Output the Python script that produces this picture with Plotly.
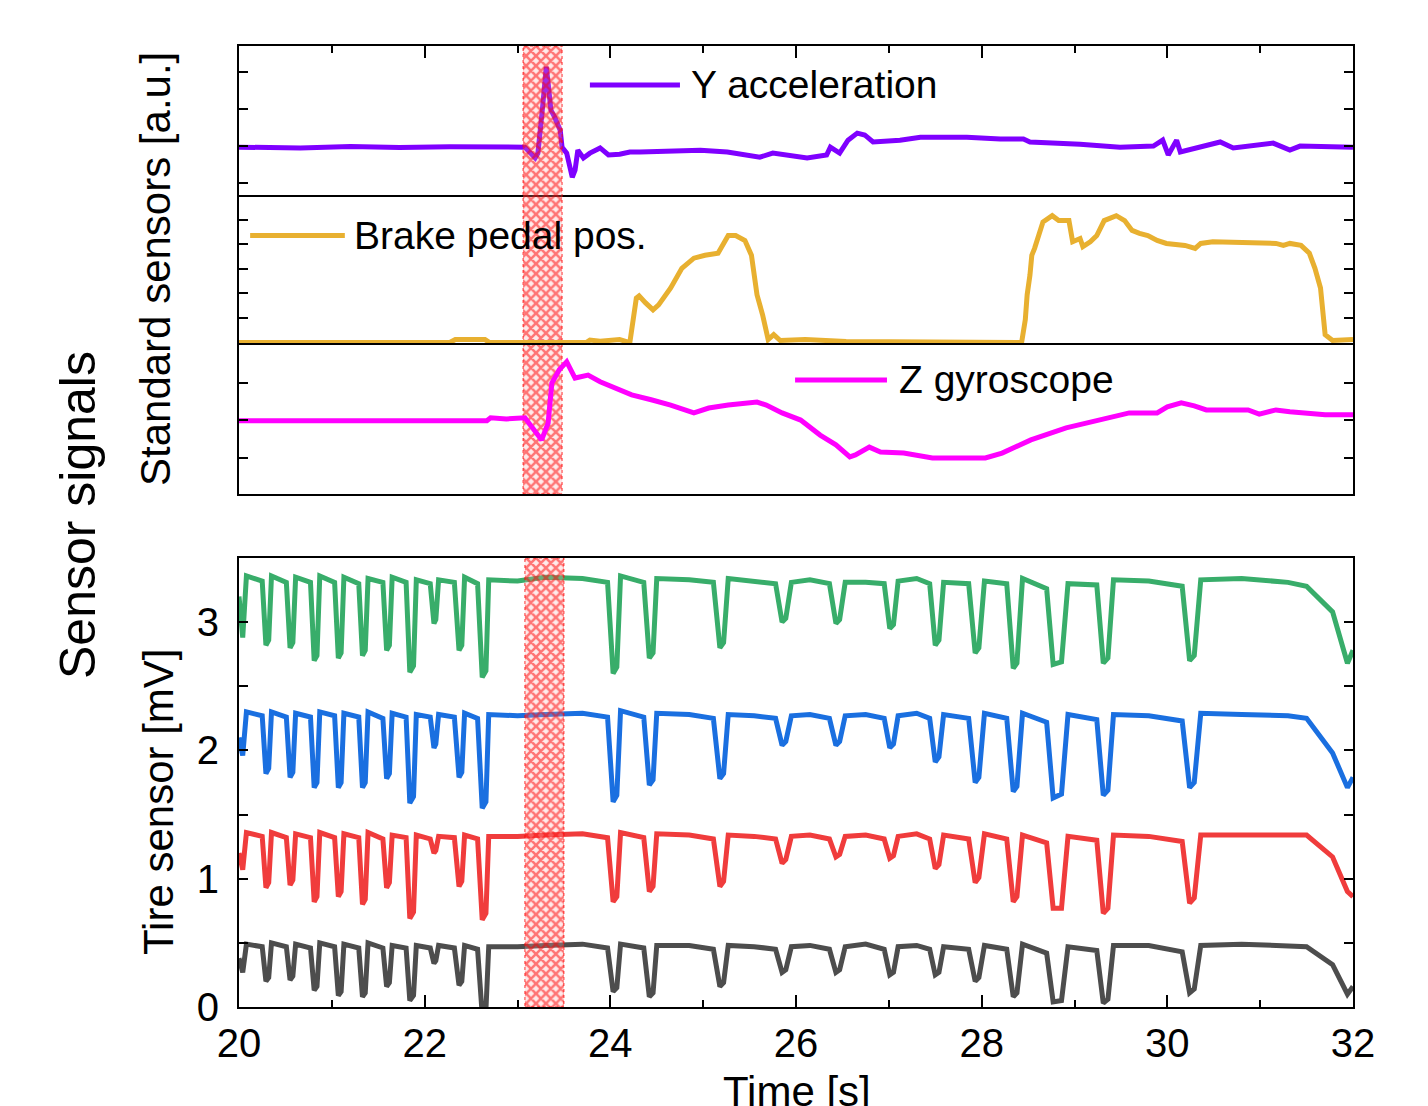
import plotly.graph_objects as go

# ---------------- data ----------------
# Y acceleration (a.u.)
yacc_t = [20.00, 20.66, 21.20, 21.73, 22.27, 22.81, 23.03, 23.08, 23.19, 23.22, 23.27, 23.31, 23.33,
          23.36, 23.40, 23.46, 23.48, 23.53, 23.59, 23.62, 23.65, 23.71, 23.78, 23.89, 23.98, 24.10,
          24.21, 24.32, 24.97, 25.26, 25.61, 25.75, 26.12, 26.33, 26.37, 26.47, 26.56, 26.66, 26.74,
          26.83, 27.12, 27.34, 27.84, 28.20, 28.45, 28.52, 29.06, 29.49, 29.85, 29.95, 30.01, 30.10,
          30.14, 30.32, 30.57, 30.71, 31.14, 31.32, 31.43, 32.00]
yacc_v = [0.97, 0.95, 0.99, 0.96, 0.98, 0.96, 0.97, 0.97, 0.68, 0.81, 2.05, 3.14, 2.70,
          1.97, 1.78, 1.43, 0.97, 0.81, 0.16, 0.35, 0.89, 0.68, 0.81, 0.95, 0.76, 0.78,
          0.84, 0.84, 0.89, 0.84, 0.70, 0.81, 0.68, 0.76, 0.97, 0.81, 1.16, 1.35, 1.30,
          1.11, 1.16, 1.24, 1.24, 1.19, 1.19, 1.11, 1.05, 0.97, 1.00, 1.16, 0.76, 1.16,
          0.84, 0.95, 1.11, 0.95, 1.08, 0.89, 1.00, 0.97]

# Brake pedal position (a.u.)
brake_t = [20.00, 22.27, 22.33, 22.65, 22.70, 23.74, 23.78, 23.89, 24.10, 24.17, 24.21, 24.28, 24.31,
           24.38, 24.46, 24.52, 24.65, 24.77, 24.90, 25.02, 25.16, 25.27, 25.35, 25.45, 25.52, 25.58,
           25.64, 25.70, 25.76, 25.83, 26.10, 26.54, 28.43, 28.47, 28.49, 28.52, 28.54, 28.57, 28.62,
           28.66, 28.76, 28.83, 28.94, 28.98, 29.06, 29.09, 29.17, 29.24, 29.32, 29.45, 29.54, 29.62,
           29.70, 29.79, 29.89, 29.99, 30.19, 30.30, 30.36, 30.49, 31.17, 31.25, 31.32, 31.44, 31.53,
           31.59, 31.65, 31.68, 31.70, 31.78, 31.97, 32.00]
brake_v = [0.00, 0.00, 0.12, 0.12, 0.00, 0.00, 0.10, 0.05, 0.12, 0.05, 0.00, 1.81, 1.90,
           1.61, 1.33, 1.53, 2.22, 3.02, 3.43, 3.55, 3.63, 4.35, 4.35, 4.15, 3.55, 1.94,
           1.13, 0.12, 0.32, 0.08, 0.12, 0.04, 0.00, 0.93, 1.94, 2.74, 3.55, 3.83, 4.35,
           4.90, 5.16, 4.96, 4.96, 4.10, 4.23, 3.90, 4.10, 4.35, 4.96, 5.16, 4.96, 4.56,
           4.44, 4.35, 4.15, 4.03, 3.95, 3.83, 4.03, 4.10, 4.03, 3.95, 4.03, 3.95, 3.63,
           3.02, 2.22, 1.13, 0.32, 0.08, 0.08, 0.12]

# Z gyroscope (a.u.)
gyro_t = [20.00, 22.67, 22.71, 22.88, 23.08, 23.17, 23.26, 23.33, 23.37, 23.45, 23.53, 23.62, 23.76,
          23.89, 24.03, 24.23, 24.44, 24.65, 24.90, 25.06, 25.27, 25.58, 25.68, 25.85, 26.05, 26.26,
          26.43, 26.58, 26.64, 26.79, 26.91, 27.16, 27.47, 28.04, 28.22, 28.53, 28.91, 29.29, 29.59,
          29.89, 30.00, 30.15, 30.29, 30.42, 30.87, 30.99, 31.17, 31.32, 31.70, 32.00]
gyro_v = [0.99, 0.99, 1.07, 1.04, 1.07, 0.80, 0.48, 0.93, 2.00, 2.35, 2.56, 2.13, 2.21,
          2.03, 1.89, 1.68, 1.55, 1.41, 1.20, 1.33, 1.41, 1.49, 1.41, 1.20, 1.01, 0.61,
          0.35, 0.03, 0.08, 0.29, 0.16, 0.13, 0.00, 0.00, 0.13, 0.48, 0.80, 1.01, 1.20,
          1.20, 1.36, 1.47, 1.39, 1.28, 1.28, 1.17, 1.28, 1.23, 1.15, 1.15]

# Tire sensor (mV), shared time base for the four channels
tire_t = [20.00, 20.04, 20.08,
          20.25, 20.29, 20.32, 20.35,
          20.51, 20.55, 20.58, 20.61,
          20.77, 20.81, 20.84, 20.87,
          21.03, 21.07, 21.10, 21.13,
          21.29, 21.33, 21.36, 21.39,
          21.55, 21.59, 21.62, 21.65,
          21.80, 21.84, 21.88, 21.91,
          22.06, 22.10, 22.12, 22.15,
          22.32, 22.37, 22.40, 22.43,
          22.57, 22.62, 22.66, 22.69,
          23.00, 23.30, 23.70,
          23.97, 24.03, 24.07, 24.11,
          24.36, 24.42, 24.46, 24.50,
          24.85,
          25.11, 25.18, 25.22, 25.27,
          25.55,
          25.78, 25.85, 25.89, 25.95,
          26.15,
          26.36, 26.43, 26.47, 26.53,
          26.75,
          26.95, 27.01, 27.05, 27.10,
          27.30,
          27.44, 27.50, 27.54, 27.59,
          27.86, 27.93, 27.97, 28.03,
          28.27, 28.34, 28.38, 28.44,
          28.70, 28.77, 28.86, 28.93,
          29.24, 29.31, 29.36, 29.42,
          29.80,
          30.16, 30.24, 30.29, 30.36,
          30.80, 31.30,
          31.50, 31.78, 31.94, 32.00]

tire_green = [3.20, 2.88, 3.36,
              3.32, 2.82, 2.86, 3.36,
              3.31, 2.80, 2.84, 3.35,
              3.31, 2.70, 2.74, 3.36,
              3.31, 2.72, 2.76, 3.35,
              3.30, 2.74, 2.78, 3.34,
              3.31, 2.78, 2.82, 3.35,
              3.31, 2.61, 2.66, 3.33,
              3.30, 2.99, 3.02, 3.33,
              3.31, 2.78, 2.82, 3.35,
              3.30, 2.57, 2.62, 3.33,
              3.32, 3.35, 3.34,
              3.31, 2.60, 2.65, 3.36,
              3.31, 2.72, 2.76, 3.34,
              3.33,
              3.31, 2.80, 2.84, 3.34,
              3.32,
              3.30, 3.00, 3.03, 3.31,
              3.33,
              3.30, 2.99, 3.02, 3.31,
              3.31,
              3.30, 2.95, 2.98, 3.32,
              3.34,
              3.30, 2.82, 2.86, 3.31,
              3.30, 2.76, 2.80, 3.32,
              3.30, 2.64, 2.68, 3.34,
              3.26, 2.67, 2.69, 3.30,
              3.29, 2.68, 2.72, 3.33,
              3.32,
              3.28, 2.70, 2.74, 3.33,
              3.34, 3.31,
              3.28, 3.08, 2.68, 2.78]

tire_blue = [2.10, 1.96, 2.30,
             2.27, 1.82, 1.86, 2.30,
             2.26, 1.79, 1.83, 2.29,
             2.26, 1.71, 1.75, 2.30,
             2.27, 1.71, 1.75, 2.29,
             2.26, 1.71, 1.75, 2.30,
             2.25, 1.78, 1.82, 2.29,
             2.26, 1.59, 1.64, 2.28,
             2.26, 2.02, 2.05, 2.28,
             2.26, 1.79, 1.83, 2.29,
             2.25, 1.55, 1.60, 2.28,
             2.27, 2.28, 2.29,
             2.26, 1.60, 1.65, 2.31,
             2.26, 1.73, 1.77, 2.29,
             2.28,
             2.25, 1.78, 1.82, 2.28,
             2.27,
             2.25, 2.04, 2.07, 2.27,
             2.28,
             2.25, 2.04, 2.07, 2.27,
             2.28,
             2.25, 2.02, 2.05, 2.27,
             2.29,
             2.25, 1.91, 1.95, 2.28,
             2.25, 1.75, 1.79, 2.29,
             2.25, 1.68, 1.72, 2.29,
             2.22, 1.63, 1.66, 2.28,
             2.24, 1.65, 1.69, 2.28,
             2.27,
             2.23, 1.71, 1.75, 2.29,
             2.28, 2.27,
             2.25, 1.98, 1.71, 1.79]

tire_red = [1.20, 1.07, 1.36,
            1.33, 0.93, 0.97, 1.36,
            1.32, 0.95, 0.99, 1.35,
            1.32, 0.82, 0.86, 1.36,
            1.32, 0.86, 0.90, 1.35,
            1.32, 0.80, 0.84, 1.36,
            1.31, 0.93, 0.97, 1.34,
            1.32, 0.69, 0.74, 1.34,
            1.31, 1.20, 1.22, 1.33,
            1.32, 0.94, 0.98, 1.34,
            1.31, 0.68, 0.73, 1.33,
            1.33, 1.34, 1.35,
            1.32, 0.82, 0.86, 1.36,
            1.32, 0.90, 0.94, 1.35,
            1.34,
            1.31, 0.94, 0.98, 1.34,
            1.33,
            1.31, 1.12, 1.15, 1.33,
            1.34,
            1.31, 1.17, 1.19, 1.33,
            1.34,
            1.31, 1.16, 1.18, 1.33,
            1.35,
            1.31, 1.08, 1.11, 1.34,
            1.31, 0.97, 1.01, 1.35,
            1.31, 0.82, 0.86, 1.34,
            1.28, 0.77, 0.77, 1.33,
            1.30, 0.73, 0.77, 1.34,
            1.33,
            1.29, 0.81, 0.85, 1.34,
            1.34, 1.34,
            1.34, 1.17, 0.90, 0.86]

tire_grey = [0.38, 0.27, 0.49,
             0.47, 0.20, 0.23, 0.50,
             0.47, 0.21, 0.24, 0.49,
             0.46, 0.13, 0.16, 0.50,
             0.47, 0.09, 0.12, 0.49,
             0.46, 0.08, 0.11, 0.50,
             0.46, 0.16, 0.19, 0.48,
             0.46, 0.05, 0.09, 0.48,
             0.46, 0.34, 0.36, 0.48,
             0.46, 0.17, 0.20, 0.48,
             0.45, -0.06, -0.02, 0.47,
             0.47, 0.48, 0.49,
             0.46, 0.12, 0.15, 0.49,
             0.46, 0.08, 0.11, 0.48,
             0.48,
             0.45, 0.16, 0.19, 0.48,
             0.47,
             0.45, 0.27, 0.29, 0.47,
             0.48,
             0.45, 0.27, 0.29, 0.47,
             0.49,
             0.45, 0.25, 0.27, 0.47,
             0.48,
             0.45, 0.25, 0.27, 0.47,
             0.45, 0.20, 0.23, 0.48,
             0.45, 0.08, 0.11, 0.49,
             0.42, 0.04, 0.05, 0.47,
             0.44, 0.03, 0.06, 0.48,
             0.48,
             0.43, 0.11, 0.14, 0.48,
             0.49, 0.48,
             0.47, 0.33, 0.10, 0.16]

# highlighted time window (s)
hatch_top = [23.06, 23.48]
hatch_bottom = [23.08, 23.50]

x_ticks = [20, 22, 24, 26, 28, 30, 32]
tire_ticks = [0, 1, 2, 3]

# ---------------- styling ----------------
FONT = "Liberation Sans, Arial, sans-serif"
C_YACC = "#7F00FF"
C_BRAKE = "#E8B030"
C_GYRO = "#FF00FF"
C_GREEN = "#38AD6A"
C_BLUE = "#1A6FE0"
C_RED = "#F03C3C"
C_GREY = "#4D4D4D"
LW = 5

fig = go.Figure()

fig.add_trace(go.Scatter(x=yacc_t, y=yacc_v, mode="lines", xaxis="x", yaxis="y",
                         line=dict(color=C_YACC, width=LW), showlegend=False))
fig.add_trace(go.Scatter(x=brake_t, y=brake_v, mode="lines", xaxis="x2", yaxis="y2",
                         line=dict(color=C_BRAKE, width=LW), showlegend=False))
fig.add_trace(go.Scatter(x=gyro_t, y=gyro_v, mode="lines", xaxis="x3", yaxis="y3",
                         line=dict(color=C_GYRO, width=LW), showlegend=False))

for vals, col in [(tire_green, C_GREEN), (tire_blue, C_BLUE), (tire_red, C_RED), (tire_grey, C_GREY)]:
    fig.add_trace(go.Scatter(x=tire_t, y=vals, mode="lines", xaxis="x4", yaxis="y4",
                             line=dict(color=col, width=LW), showlegend=False))

# legend samples (inside the panels)
fig.add_trace(go.Scatter(x=[23.78, 24.75], y=[2.65, 2.65], mode="lines", xaxis="x", yaxis="y",
                         line=dict(color=C_YACC, width=LW), showlegend=False))
fig.add_trace(go.Scatter(x=[20.12, 21.14], y=[4.35, 4.35], mode="lines", xaxis="x2", yaxis="y2",
                         line=dict(color=C_BRAKE, width=LW), showlegend=False))
fig.add_trace(go.Scatter(x=[25.99, 26.98], y=[2.08, 2.08], mode="lines", xaxis="x3", yaxis="y3",
                         line=dict(color=C_GYRO, width=LW), showlegend=False))

pattern = dict(shape="x", fgcolor="rgb(255,0,0)", bgcolor="rgba(255,170,170,0.25)",
               size=7, solidity=0.6)
fig.add_trace(go.Scatter(x=[hatch_top[0], hatch_top[1], hatch_top[1], hatch_top[0], hatch_top[0]],
                         y=[0, 0, 1, 1, 0], mode="lines", fill="toself", fillpattern=pattern,
                         line=dict(color="rgba(255,0,0,0.8)", width=1, dash="dot"),
                         xaxis="x", yaxis="y5", showlegend=False, hoverinfo="skip"))
fig.add_trace(go.Scatter(x=[hatch_bottom[0], hatch_bottom[1], hatch_bottom[1], hatch_bottom[0], hatch_bottom[0]],
                         y=[0, 0, 3.5, 3.5, 0], mode="lines", fill="toself", fillpattern=pattern,
                         line=dict(color="rgba(255,0,0,0.8)", width=1, dash="dot"),
                         xaxis="x4", yaxis="y4", showlegend=False, hoverinfo="skip"))

# ---------------- layout ----------------
# the page body has an 8px default margin, so the figure is 8px smaller and shifted
OFF = 8
W, H = 1428 - OFF, 1106 - OFF
ML, MT = 239 - OFF, 46 - OFF
PW, PH = 1114, 961
MR = W - ML - PW
MB = H - MT - PH

def dom(top_px, bot_px):
    # pixel rows of the reference page -> paper fraction
    return [(1007 - bot_px) / PH, (1007 - top_px) / PH]

def px_to_paper(xp, yp):
    return (xp - 239) / PW, (1007 - yp) / PH

line_common = dict(linecolor="black", linewidth=2, showgrid=False, zeroline=False)

fig.update_layout(
    width=W, height=H, margin=dict(l=ML, r=MR, t=MT, b=MB),
    paper_bgcolor="white", plot_bgcolor="rgba(0,0,0,0)",
    font=dict(family=FONT, color="black", size=40),
    xaxis=dict(domain=[0, 1], range=[20, 32], anchor="y", side="top", mirror=True, showline=True,
               ticks="inside", tick0=20, dtick=2, ticklen=12, tickwidth=2, tickcolor="black",
               minor=dict(ticks="inside", dtick=1, ticklen=7, tickwidth=1.5, tickcolor="black"),
               showticklabels=False, **line_common),
    xaxis2=dict(domain=[0, 1], range=[20, 32], anchor="y2", matches="x", showline=False,
                ticks="", showticklabels=False, **line_common),
    xaxis3=dict(domain=[0, 1], range=[20, 32], anchor="y3", matches="x", mirror=True, showline=True,
                ticks="", showticklabels=False, **line_common),
    xaxis4=dict(domain=[0, 1], range=[20, 32], anchor="y4", mirror=True, showline=True,
                ticks="inside", tickvals=x_ticks, ticktext=[str(v) for v in x_ticks],
                ticklen=12, tickwidth=2, tickcolor="black",
                minor=dict(ticks="inside", dtick=1, tick0=20, ticklen=7, tickwidth=1.5, tickcolor="black"),
                tickfont=dict(size=40), ticklabelstandoff=0, **line_common),
    yaxis=dict(domain=dom(46, 195), range=[-0.32, 3.70], anchor="x", mirror="ticks", showline=True,
               ticks="inside", tickvals=[0, 1, 2, 3], ticklen=9, tickwidth=2, tickcolor="black",
               showticklabels=False, **line_common),
    yaxis2=dict(domain=dom(195, 345), range=[-0.1, 6.0], anchor="x2", mirror="ticks", showline=True,
                ticks="inside", tickvals=[1, 2, 3, 4, 5], ticklen=9, tickwidth=2, tickcolor="black",
                showticklabels=False, **line_common),
    yaxis3=dict(domain=dom(345, 494), range=[-0.96, 3.01], anchor="x3", mirror="ticks", showline=True,
                ticks="inside", tickvals=[0, 1, 2], ticklen=9, tickwidth=2, tickcolor="black",
                showticklabels=False, **line_common),
    yaxis4=dict(domain=dom(558, 1007), range=[0, 3.5], anchor="x4", mirror="ticks", showline=True,
                ticks="inside", tickvals=tire_ticks, ticktext=[str(v) for v in tire_ticks],
                ticklen=9, tickwidth=2, tickcolor="black",
                minor=dict(ticks="inside", dtick=0.5, tick0=0, ticklen=9, tickwidth=2, tickcolor="black"),
                tickfont=dict(size=40), ticklabelstandoff=10, **line_common),
    yaxis5=dict(domain=dom(46, 494), range=[0, 1], anchor="x", visible=False, fixedrange=True),
)

ann = []
# legend texts
ann.append(dict(x=24.85, y=2.65, xref="x", yref="y", text="Y acceleration", showarrow=False,
                xanchor="left", yanchor="middle", font=dict(size=39)))
ann.append(dict(x=21.22, y=4.35, xref="x2", yref="y2", text="Brake pedal pos.", showarrow=False,
                xanchor="left", yanchor="middle", font=dict(size=39)))
ann.append(dict(x=27.09, y=2.08, xref="x3", yref="y3", text="Z gyroscope", showarrow=False,
                xanchor="left", yanchor="middle", font=dict(size=39)))
# axis titles
px, py = px_to_paper(155, 269)
ann.append(dict(x=px, y=py, xref="paper", yref="paper", text="Standard sensors [a.u.]", textangle=-90,
                showarrow=False, xanchor="center", yanchor="middle", font=dict(size=42)))
px, py = px_to_paper(158, 802)
ann.append(dict(x=px, y=py, xref="paper", yref="paper", text="Tire sensor [mV]", textangle=-90,
                showarrow=False, xanchor="center", yanchor="middle", font=dict(size=42)))
px, py = px_to_paper(78, 515)
ann.append(dict(x=px, y=py, xref="paper", yref="paper", text="Sensor signals", textangle=-90,
                showarrow=False, xanchor="center", yanchor="middle", font=dict(size=50)))
px, py = px_to_paper(797, 1066)
ann.append(dict(x=px, y=py, xref="paper", yref="paper", text="Time [s]",
                showarrow=False, xanchor="center", yanchor="top", font=dict(size=42)))
fig.update_layout(annotations=ann)

fig.write_html("out.html")
